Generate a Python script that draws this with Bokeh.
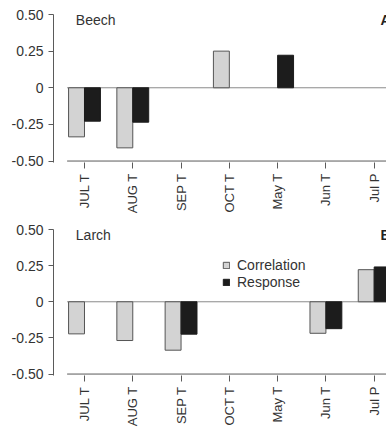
import math
from bokeh.plotting import figure
from bokeh.layouts import column
from bokeh.models import (Range1d, FixedTicker, Label, Legend, LegendItem)
from bokeh.embed import file_html
from bokeh.resources import INLINE

categories = ["JUL T", "AUG T", "SEP T", "OCT T", "May T", "Jun T", "Jul P"]
beech_corr = [-0.335, -0.41, 0.0, 0.25, 0.0, 0.0, 0.0]
beech_resp = [-0.228, -0.235, 0.0, 0.0, 0.222, 0.0, 0.0]
larch_corr = [-0.222, -0.268, -0.335, 0.0, 0.0, -0.218, 0.222]
larch_resp = [0.0, 0.0, -0.224, 0.0, 0.0, -0.186, 0.241]
y_ticks = [-0.5, -0.25, 0.0, 0.25, 0.5]
y_tick_labels = {-0.5: "-0.50", -0.25: "-0.25", 0.0: "0", 0.25: "0.25", 0.5: "0.50"}

FONT = "Liberation Sans"
GREY = "#d3d3d3"
BLACK = "#1c1c1c"
EDGE = "#555555"
AXIS = "#5a5a5a"
TXT = "#333333"
BW = 0.33


def nonzero(xs, vals, shift):
    pts = [(x + shift, v) for x, v in zip(xs, vals) if v != 0]
    return [p[0] for p in pts], [p[1] for p in pts]


def panel(corr, resp, name, letter, height, top, bottom, legend=False):
    xs = list(range(len(categories)))
    p = figure(width=386, height=height, output_backend="svg", toolbar_location=None,
               x_range=Range1d(-0.642, 6.255), y_range=Range1d(-0.51, 0.5),
               min_border_left=53, min_border_right=0, min_border_top=top,
               min_border_bottom=bottom)
    p.outline_line_color = None
    p.grid.grid_line_color = None
    p.background_fill_color = "white"
    p.border_fill_color = "white"

    # zero line and baseline
    x0 = xs[0] - BW - 0.03
    p.segment(x0=[x0], y0=[0], x1=[xs[-1] + 2], y1=[0], line_color="#8a8a8a", line_width=1)
    p.segment(x0=[x0], y0=[-0.5], x1=[xs[-1] + 2], y1=[-0.5], line_color=AXIS, line_width=1)

    cx, cv = nonzero(xs, corr, -BW / 2)
    rx, rv = nonzero(xs, resp, BW / 2)
    r1 = p.vbar(x=cx, top=cv, bottom=0, width=BW,
                fill_color=GREY, line_color=EDGE, line_width=1)
    r2 = p.vbar(x=rx, top=rv, bottom=0, width=BW,
                fill_color=BLACK, line_color=BLACK, line_width=1)

    xa = p.xaxis[0]
    xa.ticker = FixedTicker(ticks=xs)
    xa.major_label_overrides = {i: c for i, c in enumerate(categories)}
    xa.major_label_orientation = math.pi / 2
    xa.axis_line_color = None
    xa.major_tick_line_color = AXIS
    xa.major_tick_in = 0
    xa.major_tick_out = 6
    xa.minor_tick_line_color = None
    xa.major_label_standoff = 5
    xa.major_label_text_font = FONT
    xa.major_label_text_font_size = "13px"
    xa.major_label_text_color = TXT

    ya = p.yaxis[0]
    ya.ticker = FixedTicker(ticks=y_ticks)
    ya.major_label_overrides = y_tick_labels
    ya.axis_line_color = AXIS
    ya.major_tick_line_color = AXIS
    ya.major_tick_in = 0
    ya.major_tick_out = 5
    ya.minor_tick_line_color = None
    ya.major_label_standoff = 5
    ya.major_label_text_font = FONT
    ya.major_label_text_font_size = "14px"
    ya.major_label_text_color = TXT

    p.add_layout(Label(x=-0.18, y=0.462, text=name, text_font=FONT, text_font_size="14px",
                       text_color=TXT, text_baseline="middle"))
    p.add_layout(Label(x=6.13, y=0.462, text=letter, text_font=FONT, text_font_size="14px",
                       text_font_style="bold", text_color="#222222", text_baseline="middle"))

    if legend:
        lg = Legend(items=[LegendItem(label="Correlation", renderers=[r1]),
                           LegendItem(label="Response", renderers=[r2])],
                    location=(169, 85), orientation="vertical",
                    glyph_width=8, glyph_height=8, label_standoff=7,
                    label_height=17, spacing=0, padding=0, margin=0,
                    border_line_color=None, background_fill_alpha=0,
                    label_text_font=FONT, label_text_font_size="14px",
                    label_text_color=TXT)
        p.add_layout(lg, "center")
    return p


top = panel(beech_corr, beech_resp, "Beech", "A", 222, 14, 60)
bot = panel(larch_corr, larch_resp, "Larch", "B", 207, 7, 52, legend=True)

layout = column(top, bot, spacing=0)
open("out.html", "w").write(file_html(layout, INLINE))
